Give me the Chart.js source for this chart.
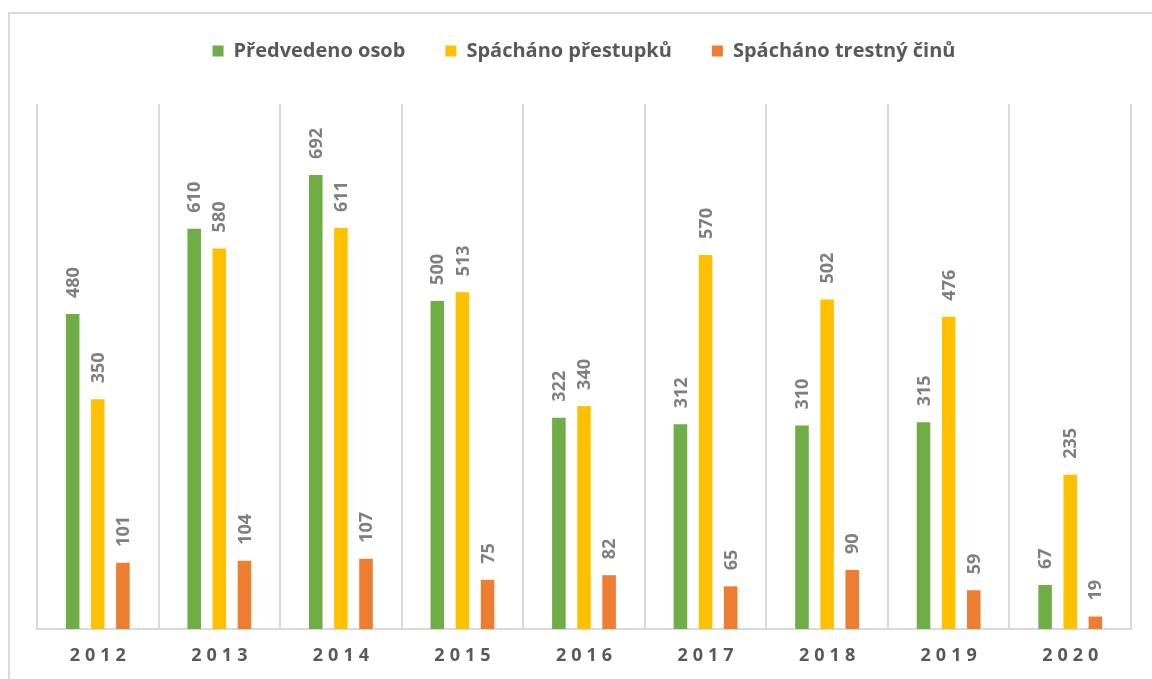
<!DOCTYPE html>
<html>
<head>
<meta charset="utf-8">
<script src="https://cdn.jsdelivr.net/npm/chart.js@4.4.1/dist/chart.umd.min.js"></script>
<style>
  body { margin: 0; background: #fff; }
  #wrap { position: relative; width: 1152px; height: 679px; overflow: hidden; }
  #frame {
    position: absolute; left: 8px; top: 12px; width: 1200px; height: 700px;
    border-left: 2px solid #d9d9d9; border-top: 2px solid #d9d9d9;
  }
  #chart { position: absolute; left: 0; top: 0; }
</style>
</head>
<body>
<div id="wrap">
  <div id="frame"></div>
  <canvas id="chart" width="1152" height="679"></canvas>
</div>
<script>
// data
var years = ["2012", "2013", "2014", "2015", "2016", "2017", "2018", "2019", "2020"];
var predvedeno = [480, 610, 692, 500, 322, 312, 310, 315, 67];
var prestupky = [350, 580, 611, 513, 340, 570, 502, 476, 235];
var trestneCiny = [101, 104, 107, 75, 82, 65, 90, 59, 19];

var seriesNames = ["Předvedeno osob", "Spácháno přestupků", "Spácháno trestný činů"];
var seriesColors = ["#70ad47", "#ffc000", "#ed7d31"];

// more room between legend and plot
var legendGap = {
  id: "legendGap",
  beforeInit: function(chart) {
    var origFit = chart.legend.fit;
    chart.legend.fit = function() {
      origFit.call(this);
      this.height += 33;
    };
  }
};

// value labels above the bars, rotated
var barLabels = {
  id: "barLabels",
  afterDatasetsDraw: function(chart) {
    var ctx = chart.ctx;
    ctx.save();
    ctx.font = "bold 18px 'Open Sans', sans-serif";
    ctx.fillStyle = "#7f7f7f";
    ctx.textAlign = "left";
    ctx.textBaseline = "middle";
    chart.data.datasets.forEach(function(ds, i) {
      var meta = chart.getDatasetMeta(i);
      meta.data.forEach(function(bar, j) {
        ctx.save();
        ctx.translate(bar.x, bar.y - 16);
        ctx.rotate(-Math.PI / 2);
        ctx.fillText(String(ds.data[j]), 0, 1);
        ctx.restore();
      });
    });
    ctx.restore();
  }
};

// year labels under the axis, spaced out
var yearLabels = {
  id: "yearLabels",
  afterDraw: function(chart) {
    var ctx = chart.ctx;
    var xScale = chart.scales.x;
    ctx.save();
    ctx.font = "bold 18px 'Open Sans', sans-serif";
    ctx.fillStyle = "#595959";
    ctx.textBaseline = "middle";
    ctx.textAlign = "center";
    ctx.letterSpacing = "5px";
    chart.data.labels.forEach(function(lbl, i) {
      var x = xScale.getPixelForValue(i);
      ctx.fillText(lbl, x + 2.5, xScale.bottom + 27);
    });
    ctx.restore();
  }
};

new Chart(document.getElementById("chart"), {
  type: "bar",
  data: {
    labels: years,
    datasets: [
      { label: seriesNames[0], data: predvedeno, backgroundColor: seriesColors[0] },
      { label: seriesNames[1], data: prestupky, backgroundColor: seriesColors[1] },
      { label: seriesNames[2], data: trestneCiny, backgroundColor: seriesColors[2] }
    ]
  },
  options: {
    responsive: false,
    animation: false,
    layout: { padding: { left: 37, right: 21, top: 1, bottom: 50 } },
    datasets: {
      bar: { categoryPercentage: 0.62, barPercentage: 0.54 }
    },
    plugins: {
      legend: {
        position: "top",
        labels: {
          boxWidth: 11,
          boxHeight: 11,
          padding: 40,
          color: "#595959",
          font: { family: "'Open Sans', sans-serif", size: 20, weight: "bold" }
        }
      },
      tooltip: { enabled: false }
    },
    scales: {
      x: {
        grid: { display: true, offset: true, color: "#d9d9d9", lineWidth: 2, drawTicks: false },
        border: { color: "#d9d9d9", width: 2 },
        ticks: { display: false }
      },
      y: {
        display: false,
        min: 0,
        max: 800
      }
    }
  },
  plugins: [legendGap, barLabels, yearLabels]
});
</script>
</body>
</html>
